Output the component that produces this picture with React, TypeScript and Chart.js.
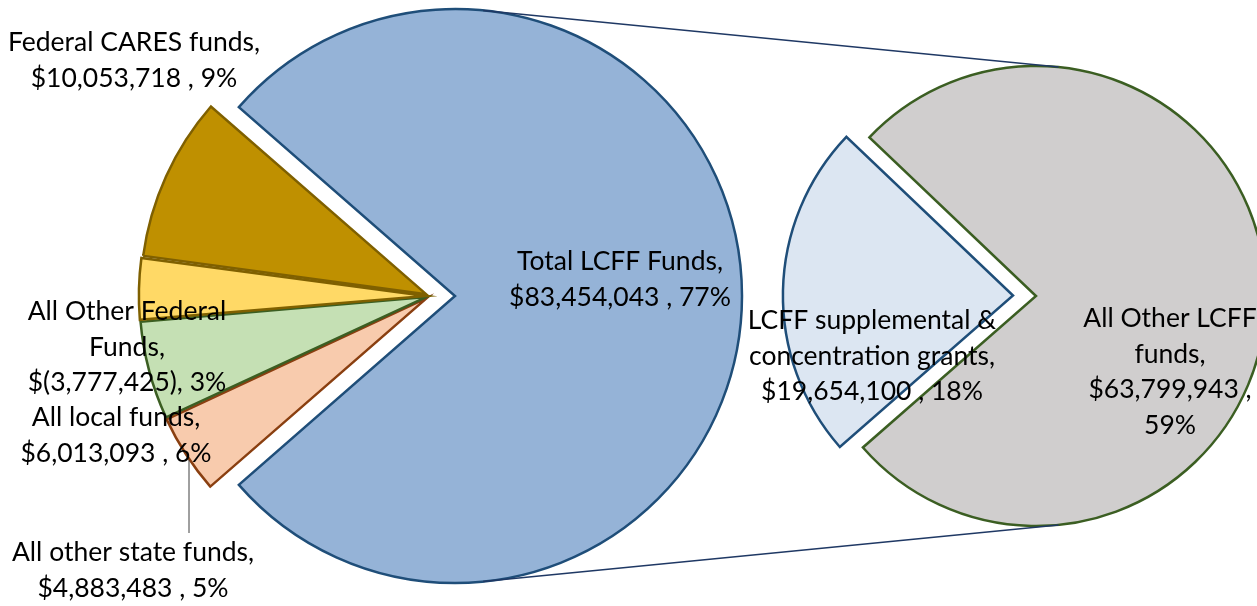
import React, { useEffect, useRef } from "react";
import { Chart, registerables } from "chart.js";

Chart.register(...registerables);

// ---------- data ----------
const leftNames = [
  "Total LCFF Funds",
  "All other state funds",
  "All local funds",
  "All Other Federal Funds",
  "Federal CARES funds",
];
const leftValues = [83454043, 4883483, 6013093, -3777425, 10053718];
const leftFill = ["#95B3D7", "#F8CBAD", "#C5E0B4", "#FFD966", "#BF9000"];
const leftBorder = ["#1F4E79", "#8A3F10", "#3B5E22", "#7F6000", "#7F6000"];

const rightNames = ["All Other LCFF funds", "LCFF supplemental & concentration grants"];
const rightValues = [63799943, 19654100];
const rightFill = ["#D0CECE", "#DCE6F2"];
const rightBorder = ["#3B5E22", "#1F4E79"];

// label layout: [center x, first baseline], and number of words per line
const leftLabelPos = [[620, 270], [133, 561], [116, 426], [127, 320], [134, 51]];
const leftLabelWrap = [[3, 3], [4, 3], [3, 3], [3, 1, 2], [3, 3]];
const rightLabelPos = [[1170, 327], [872, 329]];
const rightLabelWrap = [[3, 1, 2, 1], [3, 2, 3]];

// ---------- layout ----------
const W = 1257;
const H = 606;
const CY = 296;
const LEFT_CX = 430;
const LEFT_R = 284;
const BLUE_CX = 455;
const BLUE_R = 287;
const SMALL_OFFSET = 16; // chart.js offset units (translates offset/4)
const RIGHT_CX = 1036;
const RIGHT_R = 230;
const SUPP_OFFSET = 92;
const FONT = "26.5px Lato";
const LINE_H = 35.5;

const total = leftValues.reduce((a, v) => a + Math.abs(v), 0);
const withCommas = (n: number) => String(n).replace(/\B(?=(\d{3})+(?!\d))/g, ",");
const money = (v: number) => (v < 0 ? `$(${withCommas(-v)})` : `$${withCommas(v)} `);
const labelText = (name: string, v: number) =>
  `${name}, ${money(v)}, ${Math.round((Math.abs(v) / total) * 100)}%`;
const wrapLines = (text: string, wrap: number[]) => {
  const tokens = text.split(" ");
  const out: string[] = [];
  let i = 0;
  for (const n of wrap) {
    out.push(tokens.slice(i, i + n).join(" "));
    i += n;
  }
  return out;
};

const leftAbs = leftValues.map((v) => Math.abs(v));
const blueDeg = (leftAbs[0] / total) * 360;
const rightTotal = rightValues.reduce((a, v) => a + v, 0);
const grayDeg = (rightValues[0] / rightTotal) * 360;

export default function App() {
  const blueRef = useRef<HTMLCanvasElement>(null);
  const smallRef = useRef<HTMLCanvasElement>(null);
  const rightRef = useRef<HTMLCanvasElement>(null);

  useEffect(() => {
    const common = {
      responsive: false,
      animation: false as const,
      events: [] as any[],
      plugins: { legend: { display: false }, tooltip: { enabled: false } },
    };
    const transparent = "rgba(0,0,0,0)";

    const blueChart = new Chart(blueRef.current!, {
      type: "pie",
      data: {
        labels: leftNames,
        datasets: [
          {
            data: leftAbs,
            backgroundColor: leftFill.map((c, i) => (i === 0 ? c : transparent)),
            borderColor: leftBorder.map((c, i) => (i === 0 ? c : transparent)),
            borderWidth: 2.5,
            borderJoinStyle: "miter",
            radius: BLUE_R,
            rotation: 90 - blueDeg / 2,
            clip: false,
          } as any,
        ],
      },
      options: {
        ...common,
        layout: {
          padding: { left: 0, right: W - 2 * BLUE_CX, top: 0, bottom: H - 2 * CY },
        },
      } as any,
    });

    const smallChart = new Chart(smallRef.current!, {
      type: "pie",
      data: {
        labels: leftNames,
        datasets: [
          {
            data: leftAbs,
            backgroundColor: leftFill.map((c, i) => (i === 0 ? transparent : c)),
            borderColor: leftBorder.map((c, i) => (i === 0 ? transparent : c)),
            borderWidth: 2.5,
            borderJoinStyle: "miter",
            offset: leftAbs.map((_, i) => (i === 0 ? 0 : SMALL_OFFSET)),
            radius: LEFT_R,
            rotation: 90 - blueDeg / 2,
            clip: false,
          } as any,
        ],
      },
      options: {
        ...common,
        layout: { padding: { left: 0, right: W - 2 * LEFT_CX, top: 0, bottom: H - 2 * CY } },
      } as any,
    });

    const overlay = {
      id: "overlay",
      afterDraw(chart: any) {
        const ctx = chart.ctx as CanvasRenderingContext2D;
        const a = blueChart.getDatasetMeta(0).data[0] as any;
        const b = chart.getDatasetMeta(0).data[0] as any;
        const c1 = { x: a.x, y: a.y, r: a.outerRadius };
        const c2 = { x: b.x, y: b.y, r: b.outerRadius };
        const dx = c2.x - c1.x;
        const dy = c2.y - c1.y;
        const d = Math.hypot(dx, dy);
        const ux = dx / d;
        const uy = dy / d;
        const cosA = (c1.r - c2.r) / d;
        const sinA = Math.sqrt(1 - cosA * cosA);
        const normals = [
          { x: ux * cosA + uy * sinA, y: -ux * sinA + uy * cosA },
          { x: ux * cosA - uy * sinA, y: ux * sinA + uy * cosA },
        ];
        ctx.save();
        ctx.strokeStyle = "#1F3864";
        ctx.lineWidth = 1.5;
        for (const m of normals) {
          ctx.beginPath();
          ctx.moveTo(c1.x + c1.r * m.x, c1.y + c1.r * m.y);
          ctx.lineTo(c2.x + c2.r * m.x, c2.y + c2.r * m.y);
          ctx.stroke();
        }
        // leader line for "All other state funds"
        const st = leftLabelPos[1];
        ctx.strokeStyle = "#404040";
        ctx.lineWidth = 1;
        ctx.beginPath();
        ctx.moveTo(st[0] + 56, st[1] - 28);
        ctx.lineTo(st[0] + 56, st[1] - 101);
        ctx.stroke();

        ctx.fillStyle = "#000000";
        ctx.font = FONT;
        ctx.textAlign = "center";
        ctx.textBaseline = "alphabetic";
        const draw = (names: string[], values: number[], pos: number[][], wraps: number[][]) => {
          names.forEach((n, i) => {
            const lines = wrapLines(labelText(n, values[i]), wraps[i]);
            lines.forEach((ln, j) => ctx.fillText(ln, pos[i][0], pos[i][1] + j * LINE_H));
          });
        };
        draw(leftNames, leftValues, leftLabelPos, leftLabelWrap);
        draw(rightNames, rightValues, rightLabelPos, rightLabelWrap);
        ctx.restore();
      },
    };

    const rightChart = new Chart(rightRef.current!, {
      type: "pie",
      data: {
        labels: rightNames,
        datasets: [
          {
            data: rightValues,
            backgroundColor: rightFill,
            borderColor: rightBorder,
            borderWidth: 2.5,
            borderJoinStyle: "miter",
            offset: [0, SUPP_OFFSET],
            radius: RIGHT_R,
            rotation: 90 - grayDeg / 2 + 1.2,
            clip: false,
          } as any,
        ],
      },
      options: {
        ...common,
        layout: { padding: { left: 2 * RIGHT_CX - W, right: 0, top: 0, bottom: H - 2 * CY } },
      } as any,
      plugins: [overlay],
    });

    return () => {
      rightChart.destroy();
      smallChart.destroy();
      blueChart.destroy();
    };
  }, []);

  const cs: React.CSSProperties = { position: "absolute", left: 0, top: 0, display: "block" };
  return (
    <div style={{ position: "fixed", left: 0, top: 0, width: W, height: H, background: "#ffffff", overflow: "hidden" }}>
      <canvas ref={blueRef} width={W} height={H} style={cs} />
      <canvas ref={smallRef} width={W} height={H} style={cs} />
      <canvas ref={rightRef} width={W} height={H} style={cs} />
    </div>
  );
}
